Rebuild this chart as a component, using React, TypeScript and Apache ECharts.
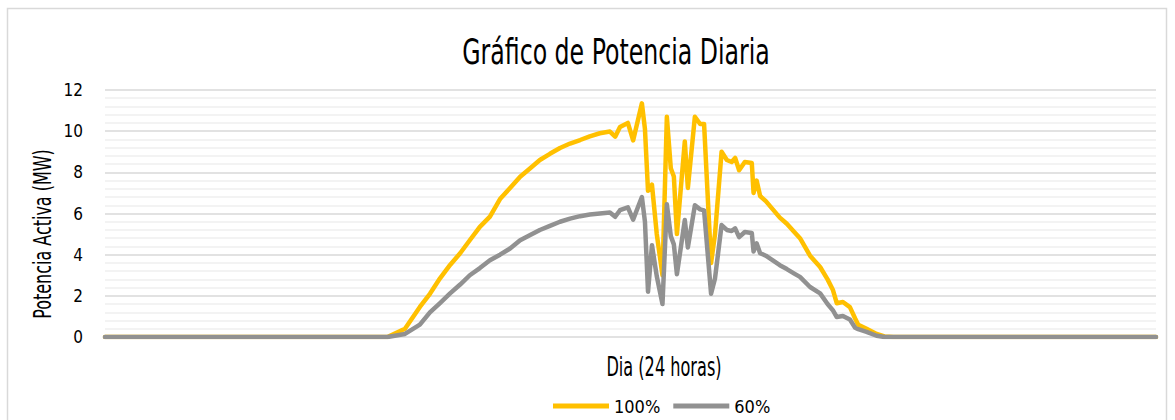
import React, { useEffect, useRef } from "react";
import * as echarts from "echarts";

// Hour of day (0-24) for each reading
const hours = [
  0, 6.45, 6.85, 7.19, 7.42, 7.65, 7.88, 8.11, 8.33, 8.56, 8.79, 9.02, 9.25, 9.48, 9.71, 9.93,
  10.16, 10.39, 10.62, 10.85, 11.07, 11.3, 11.53, 11.65, 11.76, 11.94, 12.06, 12.26, 12.33, 12.4,
  12.49, 12.6, 12.73, 12.83, 12.92, 12.99, 13.06, 13.24, 13.31, 13.47, 13.59, 13.68, 13.84, 13.93,
  14.08, 14.2, 14.31, 14.39, 14.48, 14.61, 14.77, 14.81, 14.88, 14.96, 15.09, 15.25, 15.41, 15.57,
  15.74, 15.87, 16.1, 16.33, 16.5, 16.62, 16.71, 16.85, 17.01, 17.13, 17.2, 17.39, 17.62, 17.8,
  18.0, 24,
];

// Active power (MW) at 100%
const power100 = [
  0, 0, 0.4, 1.46, 2.1, 2.85, 3.5, 4.07, 4.7, 5.35, 5.85, 6.7, 7.24, 7.79, 8.2, 8.6,
  8.9, 9.18, 9.4, 9.57, 9.75, 9.9, 9.98, 9.73, 10.2, 10.4, 9.55, 11.35, 10.1, 7.1,
  7.4, 5.0, 3.0, 10.7, 8.2, 7.8, 5.0, 9.5, 7.24, 10.7, 10.35, 10.35, 3.6, 5.0,
  9.0, 8.6, 8.5, 8.7, 8.1, 8.5, 8.45, 7.0, 7.6, 6.85, 6.6, 6.2, 5.8, 5.5,
  5.1, 4.8, 3.95, 3.4, 2.8, 2.3, 1.64, 1.7, 1.45, 0.9, 0.6, 0.4, 0.15, 0.03,
  0, 0,
];

// Active power (MW) at 60%
const power60 = [
  0, 0, 0.15, 0.6, 1.2, 1.65, 2.12, 2.55, 3.0, 3.35, 3.73, 4.0, 4.3, 4.7, 4.95, 5.2,
  5.4, 5.6, 5.75, 5.87, 5.95, 6.0, 6.05, 5.84, 6.16, 6.3, 5.7, 6.8, 5.6, 2.2,
  4.46, 2.95, 1.6, 6.45, 4.9, 4.5, 3.05, 5.68, 4.35, 6.4, 6.2, 6.15, 2.1, 2.85,
  5.44, 5.2, 5.15, 5.28, 4.85, 5.1, 5.05, 4.15, 4.55, 4.07, 3.95, 3.72, 3.49, 3.3,
  3.08, 2.92, 2.43, 2.12, 1.6, 1.3, 0.97, 1.02, 0.85, 0.45, 0.38, 0.25, 0.06, 0,
  0, 0,
];

const seriesNames = ["100%", "60%"];
const titleText = "Gráfico de Potencia Diaria";
const yAxisTitle = "Potencia Activa (MW)";
const xAxisTitle = "Dia (24 horas)";
const FONT = "'DejaVu Sans Condensed', 'Liberation Sans Narrow', sans-serif";

export default function App() {
  const ref = useRef<HTMLDivElement>(null);

  useEffect(() => {
    if (!ref.current) return;
    const chart = echarts.init(ref.current, null, { renderer: "svg" });
    const pairs = (vals: number[]) => hours.map((h, i) => [h, vals[i]]);
    chart.setOption({
      animation: false,
      backgroundColor: "#ffffff",
      textStyle: { fontFamily: FONT, color: "#000" },
      legend: {
        data: seriesNames,
        left: 548,
        top: 392,
        itemWidth: 56,
        itemHeight: 5,
        itemGap: 13,
        icon: "rect",
        textStyle: { fontFamily: FONT, fontSize: 18, color: "#000" },
      },
      grid: { left: 105, right: 19, top: 90, bottom: 83, containLabel: false },
      xAxis: {
        type: "value",
        min: 0,
        max: 24,
        axisLabel: { show: false },
        axisTick: { show: false },
        axisLine: { show: false },
        splitLine: { show: false },
      },
      yAxis: {
        type: "value",
        min: 0,
        max: 12,
        interval: 2,
        axisLine: { show: false },
        axisTick: { show: false },
        axisLabel: { fontFamily: FONT, fontSize: 17, color: "#000", margin: 22 },
        splitLine: { lineStyle: { color: "#d9d9d9", width: 1.5 } },
        minorTick: { show: false, splitNumber: 5 },
        minorSplitLine: { show: true, lineStyle: { color: "#efefef", width: 1.5 } },
      },
      graphic: [
        {
          type: "rect",
          shape: { x: 7.5, y: 8.5, width: 1159, height: 430 },
          style: { fill: "none", stroke: "#d9d9d9", lineWidth: 1.5 },
          silent: true,
        },
        {
          type: "text",
          x: 616,
          y: 51,
          scaleX: 0.73,
          style: {
            text: titleText,
            align: "center",
            verticalAlign: "middle",
            fontFamily: FONT,
            fontSize: 36,
            fill: "#000",
          },
        },
        {
          type: "text",
          x: 42,
          y: 234,
          rotation: Math.PI / 2,
          scaleX: 0.74,
          style: {
            text: yAxisTitle,
            align: "center",
            verticalAlign: "middle",
            fontFamily: FONT,
            fontSize: 24,
            fill: "#000",
          },
        },
        {
          type: "text",
          x: 664,
          y: 367,
          scaleX: 0.69,
          style: {
            text: xAxisTitle,
            align: "center",
            verticalAlign: "middle",
            fontFamily: FONT,
            fontSize: 26,
            fill: "#000",
          },
        },
      ],
      series: [
        {
          name: seriesNames[0],
          type: "line",
          data: pairs(power100),
          showSymbol: false,
          symbol: "none",
          color: "#FFC000",
          lineStyle: { color: "#FFC000", width: 4.5, cap: "round", join: "round" },
        },
        {
          name: seriesNames[1],
          type: "line",
          data: pairs(power60),
          showSymbol: false,
          symbol: "none",
          color: "#919191",
          lineStyle: { color: "#919191", width: 4.5, cap: "round", join: "round" },
        },
      ],
    });
    return () => chart.dispose();
  }, []);

  return (
    <div
      ref={ref}
      style={{ position: "absolute", left: 0, top: 0, width: 1175, height: 420 }}
    />
  );
}
